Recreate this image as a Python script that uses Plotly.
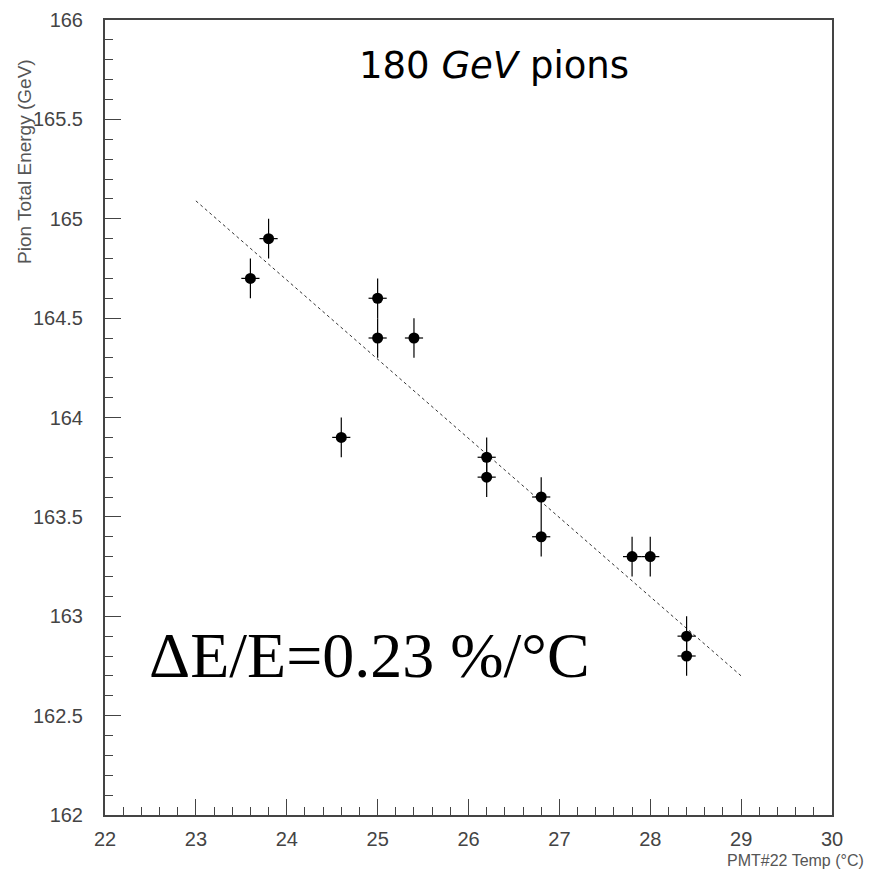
import plotly.graph_objects as go

# Data
temp = [23.6, 23.8, 24.6, 25.0, 25.0, 25.4, 26.2, 26.2, 26.8, 26.8, 27.8, 28.0, 28.4, 28.4]
energy = [164.7, 164.9, 163.9, 164.6, 164.4, 164.4, 163.8, 163.7, 163.6, 163.4, 163.3, 163.3, 162.9, 162.8]
temp_err = [0.1] * len(temp)
energy_err = [0.1] * len(energy)

fit_x = [23.0, 29.0]
fit_y = [165.09, 162.70]

y_tickvals = [162, 162.5, 163, 163.5, 164, 164.5, 165, 165.5, 166]
y_ticktext = ["162", "162.5", "163", "163.5", "164", "164.5", "165", "165.5", "166"]
x_tickvals = [22, 23, 24, 25, 26, 27, 28, 29, 30]
x_ticktext = ["22", "23", "24", "25", "26", "27", "28", "29", "30"]

fig = go.Figure()

fig.add_trace(go.Scatter(
    x=fit_x, y=fit_y, mode="lines",
    line=dict(color="#333333", width=1, dash="3px,3px"),
    hoverinfo="skip", showlegend=False,
))

fig.add_trace(go.Scatter(
    x=temp, y=energy, mode="markers",
    marker=dict(color="black", size=11),
    error_x=dict(type="data", array=temp_err, color="black", thickness=1.2, width=0),
    error_y=dict(type="data", array=energy_err, color="black", thickness=1.2, width=0),
    showlegend=False,
))

axis_common = dict(
    showline=True, mirror=True, linecolor="#444444", linewidth=2,
    showgrid=False, zeroline=False, automargin=False,
    ticks="inside", tickcolor="#444444", tickwidth=1,
    tickfont=dict(family="Liberation Sans, Arial, sans-serif", size=20, color="#444444"),
)

fig.update_xaxes(
    range=[22, 30], tickvals=x_tickvals, ticktext=x_ticktext, ticklen=16,
    ticklabelstandoff=5,
    minor=dict(ticks="inside", ticklen=8, dtick=0.2, tick0=22, tickcolor="#444444", showgrid=False),
    **axis_common,
)
fig.update_yaxes(
    range=[162, 166], tickvals=y_tickvals, ticktext=y_ticktext, ticklen=16,
    ticklabelstandoff=16,
    minor=dict(ticks="inside", ticklen=8, dtick=0.1, tick0=162, tickcolor="#444444", showgrid=False),
    **axis_common,
)

fig.add_annotation(
    text="Pion Total Energy (GeV)", xref="paper", yref="paper",
    x=-0.110, y=0.953, xanchor="center", yanchor="top", textangle=-90,
    showarrow=False,
    font=dict(family="Liberation Sans, Arial, sans-serif", size=19, color="#555555"),
)
fig.add_annotation(
    text="PMT#22 Temp (°C)", xref="paper", yref="paper",
    x=(866 - 105) / 727, y=(815 - 860) / 795, xanchor="right", yanchor="middle",
    showarrow=False,
    font=dict(family="Liberation Sans, Arial, sans-serif", size=16, color="#555555"),
)
fig.add_annotation(
    text="180 <i>GeV</i> pions", xref="paper", yref="paper",
    x=(494 - 105) / 727, y=(815 - 66) / 795, xanchor="center", yanchor="middle",
    showarrow=False,
    font=dict(family="DejaVu Sans, sans-serif", size=37, color="black"),
)
fig.add_annotation(
    text="ΔE/E=0.23 %/°C", xref="paper", yref="paper",
    x=(147 - 105) / 727, y=(815 - 655) / 795, xanchor="left", yanchor="middle",
    showarrow=False,
    font=dict(family="Liberation Serif, Times New Roman, serif", size=64, color="black"),
)

# the page adds an 8px body margin, so the figure is shrunk and shifted accordingly
fig.update_layout(
    width=858, height=862,
    margin=dict(l=97, r=34, t=12, b=55, autoexpand=False),
    paper_bgcolor="white", plot_bgcolor="white",
)

fig.write_html("out.html")
